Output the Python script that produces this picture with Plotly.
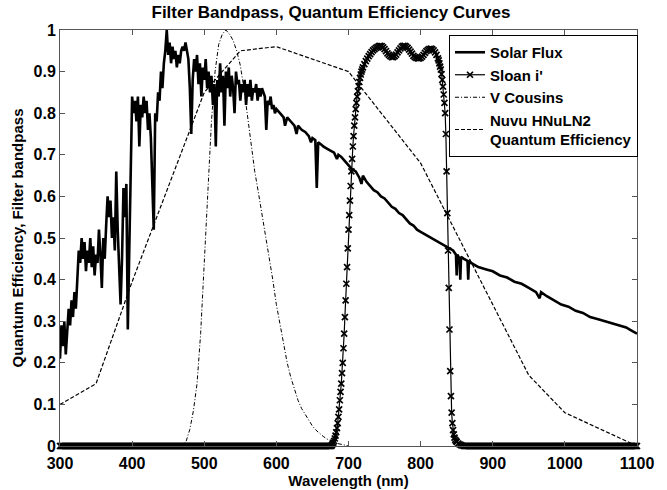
import plotly.graph_objects as go

# ---------------- data ----------------
solar_wl = [300, 302, 304, 306, 308, 310, 312, 314, 316, 318, 320, 322, 324, 326, 328, 330, 332, 334, 336, 338,
            340, 342, 344, 346, 348, 350, 352, 354, 356, 358, 360, 362, 364, 366, 368, 370, 372, 374, 376, 378,
            380, 382, 384, 386, 388, 390, 392, 394, 396, 398, 400, 402, 404, 406, 408, 410, 412, 414, 416, 418,
            420, 422, 424, 426, 428, 430, 432, 434, 436, 438, 440, 442, 444, 446, 448, 450, 452, 454, 456, 458,
            460, 462, 464, 466, 468, 470, 472, 474, 476, 478, 480, 482, 484, 486, 488, 490, 492, 494, 496, 498,
            500, 502, 504, 506, 508, 510, 512, 514, 516, 518, 520, 522, 524, 526, 528, 530, 532, 534, 536, 538,
            540, 542, 544, 546, 548, 550, 552, 554, 556, 558, 560, 562, 564, 566, 568, 570, 572, 574, 576, 578,
            580, 582, 584, 586, 588, 590, 592, 594, 596, 598, 600, 605, 610, 612, 615, 620, 625, 628, 630, 635,
            640, 645, 648, 650, 654, 656, 658, 662, 665, 670, 675, 680, 684, 686, 690, 695, 700, 705, 710, 715,
            718, 720, 725, 730, 735, 740, 745, 750, 755, 760, 765, 770, 775, 780, 785, 790, 795, 800, 805, 810,
            815, 820, 825, 830, 835, 840, 845, 849, 850, 851, 854, 855, 856, 860, 865, 866, 867, 870, 880, 890,
            900, 910, 920, 930, 940, 950, 960, 965, 967, 975, 985, 995, 1005, 1015, 1025, 1035, 1045, 1055, 1065, 1075,
            1085, 1090, 1095, 1100]
solar_val = [0.21, 0.29, 0.24, 0.30, 0.22, 0.28, 0.33, 0.29, 0.35, 0.31, 0.37, 0.33, 0.39, 0.47, 0.44, 0.50, 0.45, 0.49, 0.42, 0.47,
             0.44, 0.50, 0.43, 0.48, 0.41, 0.46, 0.44, 0.52, 0.46, 0.38, 0.50, 0.45, 0.53, 0.60, 0.55, 0.59, 0.50, 0.55, 0.47, 0.66,
             0.52, 0.40, 0.34, 0.45, 0.62, 0.55, 0.63, 0.28, 0.45, 0.70, 0.84, 0.80, 0.83, 0.78, 0.84, 0.72, 0.82, 0.79, 0.84, 0.80,
             0.83, 0.76, 0.80, 0.74, 0.62, 0.52, 0.80, 0.78, 0.85, 0.83, 0.90, 0.86, 0.92, 0.95, 1.00, 0.94, 0.97, 0.92, 0.96, 0.93,
             0.95, 0.91, 0.94, 0.92, 0.95, 0.96, 0.95, 0.97, 0.95, 0.93, 0.86, 0.75, 0.88, 0.93, 0.90, 0.94, 0.87, 0.92, 0.84, 0.91,
             0.88, 0.93, 0.86, 0.90, 0.85, 0.89, 0.82, 0.87, 0.72, 0.88, 0.84, 0.92, 0.85, 0.89, 0.77, 0.90, 0.86, 0.91, 0.84, 0.89,
             0.86, 0.80, 0.90, 0.87, 0.88, 0.83, 0.87, 0.85, 0.88, 0.82, 0.87, 0.84, 0.88, 0.83, 0.86, 0.85, 0.87, 0.83, 0.86, 0.84,
             0.86, 0.85, 0.84, 0.76, 0.83, 0.82, 0.84, 0.81, 0.82, 0.80, 0.81, 0.80, 0.79, 0.77, 0.79, 0.78, 0.77, 0.75, 0.77, 0.76,
             0.755, 0.745, 0.73, 0.74, 0.735, 0.62, 0.73, 0.725, 0.72, 0.715, 0.71, 0.705, 0.69, 0.70, 0.695, 0.685, 0.675, 0.665, 0.66, 0.645,
             0.63, 0.65, 0.635, 0.625, 0.615, 0.61, 0.60, 0.595, 0.585, 0.575, 0.57, 0.56, 0.555, 0.545, 0.535, 0.53, 0.52, 0.515, 0.51, 0.505,
             0.50, 0.495, 0.49, 0.485, 0.48, 0.475, 0.47, 0.46, 0.41, 0.46, 0.45, 0.40, 0.455, 0.45, 0.445, 0.40, 0.445, 0.44, 0.43, 0.425,
             0.42, 0.41, 0.405, 0.395, 0.39, 0.38, 0.37, 0.355, 0.37, 0.36, 0.35, 0.34, 0.335, 0.325, 0.32, 0.31, 0.305, 0.30, 0.295, 0.29,
             0.285, 0.28, 0.275, 0.27]

sloan_band_wl = [676, 677, 678, 679, 680, 681, 682, 683, 684, 685, 686, 687, 688, 689, 690, 691, 692, 693, 694, 695,
                 696, 697, 698, 699, 700, 701, 702, 703, 704, 705, 706, 707, 708, 709, 710, 711, 712, 713, 714, 715,
                 716, 717, 718, 719, 720, 722, 724, 726, 728, 730, 732, 734, 736, 738, 740, 742, 744, 746, 748, 750,
                 752, 754, 756, 758, 760, 762, 764, 766, 768, 770, 772, 774, 776, 778, 780, 782, 784, 786, 788, 790,
                 792, 794, 796, 798, 800, 802, 804, 806, 808, 810, 812, 814, 816, 818, 820, 822, 824, 825, 826, 827,
                 828, 829, 830, 831, 832, 833, 834, 835, 836, 837, 838, 839, 840, 841, 842, 843, 844, 845, 846, 847,
                 848, 849, 850, 852, 854, 856, 858, 860]
sloan_band_val = [0.000, 0.002, 0.005, 0.008, 0.012, 0.018, 0.025, 0.033, 0.043, 0.055, 0.070, 0.088, 0.110, 0.130, 0.150, 0.175, 0.200, 0.235, 0.270, 0.310,
                  0.350, 0.390, 0.430, 0.475, 0.520, 0.555, 0.590, 0.625, 0.660, 0.690, 0.720, 0.745, 0.770, 0.790, 0.810, 0.825, 0.840, 0.853, 0.865, 0.875,
                  0.885, 0.893, 0.900, 0.905, 0.910, 0.918, 0.925, 0.931, 0.937, 0.942, 0.947, 0.951, 0.954, 0.957, 0.959, 0.961, 0.962, 0.961, 0.958, 0.954,
                  0.949, 0.944, 0.940, 0.937, 0.935, 0.935, 0.937, 0.941, 0.946, 0.951, 0.956, 0.960, 0.962, 0.962, 0.960, 0.957, 0.953, 0.948, 0.943, 0.938,
                  0.935, 0.933, 0.932, 0.932, 0.933, 0.936, 0.940, 0.945, 0.949, 0.952, 0.954, 0.955, 0.954, 0.951, 0.946, 0.940, 0.932, 0.927, 0.920, 0.912,
                  0.905, 0.894, 0.880, 0.864, 0.845, 0.825, 0.800, 0.750, 0.660, 0.560, 0.470, 0.380, 0.280, 0.180, 0.120, 0.080, 0.055, 0.038, 0.028, 0.020,
                  0.015, 0.012, 0.010, 0.006, 0.004, 0.002, 0.001, 0.000]
sloan_zero_left_wl = list(range(300, 676, 1))
sloan_zero_right_wl = list(range(861, 1101, 1))

vcous_wl = [465, 470, 475, 480, 485, 490, 495, 500, 505, 510, 515, 520, 525, 530, 535, 540, 545, 550, 555, 560,
            565, 570, 575, 580, 585, 590, 595, 600, 605, 610, 615, 620, 625, 630, 635, 640, 645, 650, 655, 660,
            665, 670, 675, 680, 685, 690, 695, 700]
vcous_val = [0.0, 0.002, 0.012, 0.04, 0.085, 0.15, 0.27, 0.45, 0.62, 0.78, 0.90, 0.965, 0.99, 1.0, 0.99, 0.975, 0.95, 0.915, 0.86, 0.79,
             0.72, 0.66, 0.61, 0.56, 0.51, 0.46, 0.40, 0.34, 0.29, 0.24, 0.20, 0.165, 0.135, 0.11, 0.09, 0.075, 0.06, 0.048, 0.038, 0.03,
             0.023, 0.017, 0.012, 0.009, 0.006, 0.004, 0.002, 0.0]

qe_wl = [300, 350, 400, 450, 500, 550, 600, 700, 800, 900, 950, 1000, 1100]
qe_val = [0.10, 0.15, 0.395, 0.625, 0.85, 0.95, 0.96, 0.90, 0.68, 0.34, 0.17, 0.08, 0.0]

x_ticks = [300, 400, 500, 600, 700, 800, 900, 1000, 1100]
y_ticks = [0, 0.1, 0.2, 0.3, 0.4, 0.5, 0.6, 0.7, 0.8, 0.9, 1]
y_tick_text = ["0", "0.1", "0.2", "0.3", "0.4", "0.5", "0.6", "0.7", "0.8", "0.9", "1"]

# ---------------- figure ----------------
sloan_wl = sloan_zero_left_wl + sloan_band_wl + sloan_zero_right_wl
sloan_val = [0.0] * len(sloan_zero_left_wl) + sloan_band_val + [0.0] * len(sloan_zero_right_wl)

FONT = "Liberation Sans, Arial, sans-serif"

fig = go.Figure()
fig.add_trace(go.Scatter(x=solar_wl, y=solar_val, mode="lines", name="Solar Flux",
                         line=dict(color="black", width=2.6)))
fig.add_trace(go.Scatter(x=sloan_wl, y=sloan_val, mode="lines+markers", name="Sloan i'",
                         line=dict(color="black", width=1.2),
                         marker=dict(symbol="x-thin", size=6, color="black",
                                     line=dict(color="black", width=1.7)),
                         cliponaxis=False))
fig.add_trace(go.Scatter(x=vcous_wl, y=vcous_val, mode="lines", name="V Cousins",
                         line=dict(color="black", width=1, dash="4px,2px,1px,2px")))
fig.add_trace(go.Scatter(x=qe_wl, y=qe_val, mode="lines", name="Nuvu HNuLN2<br>Quantum Efficiency",
                         line=dict(color="black", width=1.2, dash="4px,2px")))

axis_common = dict(showline=True, linecolor="#555555", linewidth=1, mirror="ticks",
                   ticks="inside", ticklen=5, tickcolor="#555555", showgrid=False, zeroline=False,
                   automargin=False,
                   tickfont=dict(family=FONT, size=16, color="black", weight="bold"))

fig.update_layout(
    width=667, height=490,
    margin=dict(l=60, r=30, t=30, b=44),
    paper_bgcolor="white", plot_bgcolor="white",
    font=dict(family=FONT, color="black", weight="bold"),
    title=dict(text="Filter Bandpass, Quantum Efficiency Curves", x=331 / 667, xanchor="center",
               y=1 - 12 / 490, yanchor="middle",
               font=dict(family=FONT, size=17, color="black", weight="bold")),
    xaxis=dict(range=[300, 1100], tickvals=x_ticks, ticklabelstandoff=3,
               title=dict(text="Wavelength (nm)", standoff=0,
                          font=dict(family=FONT, size=15, color="black", weight="bold")),
               **axis_common),
    yaxis=dict(range=[0, 1], tickvals=y_ticks, ticktext=y_tick_text,
               title=dict(text="Quantum Efficiency, Filter bandpass", standoff=6,
                          font=dict(family=FONT, size=15, color="black", weight="bold")),
               **axis_common),
    legend=dict(x=(449 - 60) / 577, y=(446 - 35) / 416, xanchor="left", yanchor="top",
                bgcolor="white", bordercolor="black", borderwidth=1,
                font=dict(family=FONT, size=15, color="black", weight="bold"),
                tracegroupgap=0, itemwidth=30),
    showlegend=True,
)

fig.write_html("out.html")
